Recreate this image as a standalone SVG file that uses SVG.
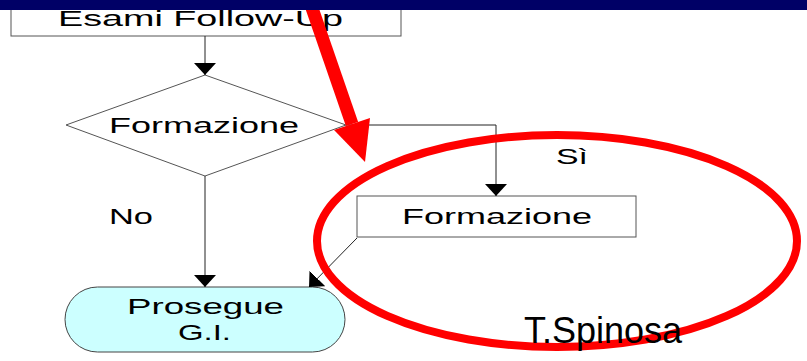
<svg xmlns="http://www.w3.org/2000/svg" width="807" height="361" viewBox="0 0 807 361">
  <style>
    .box { fill: #ffffff; stroke: #555555; stroke-width: 1; }
    .term { fill: #ccffff; stroke: #444444; stroke-width: 1; }
    .lbl { font-family: "Liberation Sans", Arial, sans-serif; font-size: 22px; fill: #000000; }
    .conn { fill: none; stroke: #222222; stroke-width: 1; marker-end: url(#tri); }
    .mark { fill: none; stroke: #ff0000; }
  </style>
  <defs>
    <marker id="tri" viewBox="0 -11 12 22" refX="12" refY="0" markerWidth="12" markerHeight="22" markerUnits="userSpaceOnUse" orient="auto">
      <path d="M0,-11 L12,0 L0,11 z" fill="#000000"/>
    </marker>
  </defs>

  <rect x="0" y="0" width="807" height="361" fill="#ffffff"/>

  <!-- flowchart nodes -->
  <g id="esami">
    <rect class="box" x="11" y="-5" width="390" height="41"/>
    <text class="lbl" x="58" y="26" font-size="17" textLength="285" lengthAdjust="spacingAndGlyphs">Esami Follow-Up</text>
  </g>

  <g id="decisione">
    <polygon class="box" points="205,75 346,125 205,176 66,125"/>
    <text class="lbl" x="109" y="133" textLength="190" lengthAdjust="spacingAndGlyphs">Formazione</text>
  </g>

  <g id="formazione">
    <rect class="box" x="357" y="196" width="279" height="41"/>
    <text class="lbl" x="402" y="224" textLength="190" lengthAdjust="spacingAndGlyphs">Formazione</text>
  </g>

  <g id="prosegue">
    <rect class="term" x="65" y="287" width="280" height="65" rx="32.5" ry="32.5"/>
    <text class="lbl" x="127" y="314" textLength="157" lengthAdjust="spacingAndGlyphs">Prosegue</text>
    <text class="lbl" x="178" y="340" textLength="53" lengthAdjust="spacingAndGlyphs">G.I.</text>
  </g>

  <!-- connectors -->
  <g id="connectors">
    <path class="conn" d="M205,36 L205,75"/>
    <path class="conn" d="M346,125 L496,125 L496,196"/>
    <path class="conn" d="M205,176 L205,287"/>
    <path class="conn" d="M357,238 L309,287"/>
    <text class="lbl" x="556" y="164" textLength="32" lengthAdjust="spacingAndGlyphs">Sì</text>
    <text class="lbl" x="109" y="224" textLength="44" lengthAdjust="spacingAndGlyphs">No</text>
  </g>

  <!-- red highlight: pointer arrow and ellipse -->
  <g id="evidenza">
    <line class="mark" x1="312" y1="8" x2="352" y2="124" stroke-width="13"/>
    <polygon points="334,130 370,118 365,162" fill="#ff0000"/>
    <ellipse class="mark" cx="557" cy="241" rx="240" ry="106" stroke-width="8"/>
  </g>

  <text x="524" y="343" font-family="Liberation Sans, Arial, sans-serif" font-size="36" fill="#000000">T.Spinosa</text>

  <!-- title bar -->
  <rect x="0" y="0" width="807" height="10" fill="#000066"/>
</svg>
